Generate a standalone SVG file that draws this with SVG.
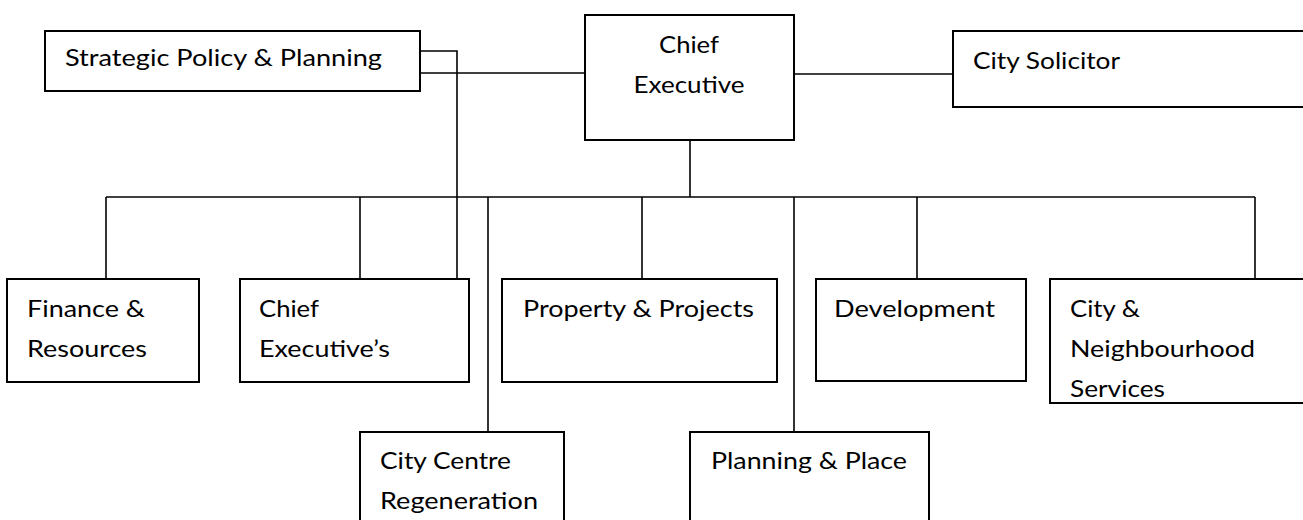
<svg xmlns="http://www.w3.org/2000/svg" width="1303" height="520" viewBox="0 0 1303 520">
  <style>
    .box { fill: #ffffff; stroke: #000000; stroke-width: 2; }
    .lbl { font-family: Lato, "Open Sans", "Liberation Sans", sans-serif; font-size: 24px; fill: #000000; }
    .mid { text-anchor: middle; }
    #connectors path { fill: none; stroke: #000000; stroke-width: 1.6; }
  </style>
  <rect width="1303" height="520" fill="#ffffff"/>

  <!-- reporting lines -->
  <g id="connectors">
    <path d="M420 73 H585"/>
    <path d="M420 51 H457 V279"/>
    <path d="M794 74 H953"/>
    <path d="M690 140 V197"/>
    <path d="M106 197 H1255"/>
    <path d="M106 197 V279"/>
    <path d="M360 197 V279"/>
    <path d="M642 197 V279"/>
    <path d="M917 197 V279"/>
    <path d="M1255 197 V279"/>
    <path d="M488 197 V432"/>
    <path d="M794 197 V432"/>
  </g>

  <g id="strategic-policy">
    <rect class="box" x="45" y="31" width="375" height="60"/>
    <text class="lbl" x="65" y="66" textLength="317" lengthAdjust="spacingAndGlyphs">Strategic Policy &amp; Planning</text>
  </g>

  <g id="chief-executive">
    <rect class="box" x="585" y="15" width="209" height="125"/>
    <text class="lbl mid" x="689" y="53" textLength="60" lengthAdjust="spacingAndGlyphs">Chief</text>
    <text class="lbl mid" x="689" y="93" textLength="111" lengthAdjust="spacingAndGlyphs">Executive</text>
  </g>

  <g id="city-solicitor">
    <rect class="box" x="953" y="31" width="360" height="76"/>
    <text class="lbl" x="973" y="69" textLength="147" lengthAdjust="spacingAndGlyphs">City Solicitor</text>
  </g>

  <g id="finance-resources">
    <rect class="box" x="7" y="279" width="192" height="103"/>
    <text class="lbl" x="27" y="317" textLength="118" lengthAdjust="spacingAndGlyphs">Finance &amp;</text>
    <text class="lbl" x="27" y="357" textLength="120" lengthAdjust="spacingAndGlyphs">Resources</text>
  </g>

  <g id="chief-executives">
    <rect class="box" x="240" y="279" width="229" height="103"/>
    <text class="lbl" x="259" y="317" textLength="60" lengthAdjust="spacingAndGlyphs">Chief</text>
    <text class="lbl" x="259" y="357" textLength="131" lengthAdjust="spacingAndGlyphs">Executive’s</text>
  </g>

  <g id="property-projects">
    <rect class="box" x="502" y="279" width="275" height="103"/>
    <text class="lbl" x="523" y="317" textLength="231" lengthAdjust="spacingAndGlyphs">Property &amp; Projects</text>
  </g>

  <g id="development">
    <rect class="box" x="816" y="279" width="210" height="102"/>
    <text class="lbl" x="834" y="317" textLength="161" lengthAdjust="spacingAndGlyphs">Development</text>
  </g>

  <g id="city-neighbourhood">
    <rect class="box" x="1050" y="279" width="270" height="124"/>
    <text class="lbl" x="1070" y="317" textLength="70" lengthAdjust="spacingAndGlyphs">City &amp;</text>
    <text class="lbl" x="1070" y="357" textLength="185" lengthAdjust="spacingAndGlyphs">Neighbourhood</text>
    <text class="lbl" x="1070" y="397" textLength="95" lengthAdjust="spacingAndGlyphs">Services</text>
  </g>

  <g id="city-centre-regeneration">
    <rect class="box" x="360" y="432" width="204" height="100"/>
    <text class="lbl" x="380" y="469" textLength="131" lengthAdjust="spacingAndGlyphs">City Centre</text>
    <text class="lbl" x="380" y="509" textLength="158" lengthAdjust="spacingAndGlyphs">Regeneration</text>
  </g>

  <g id="planning-place">
    <rect class="box" x="690" y="432" width="239" height="100"/>
    <text class="lbl" x="711" y="469" textLength="196" lengthAdjust="spacingAndGlyphs">Planning &amp; Place</text>
  </g>
</svg>
